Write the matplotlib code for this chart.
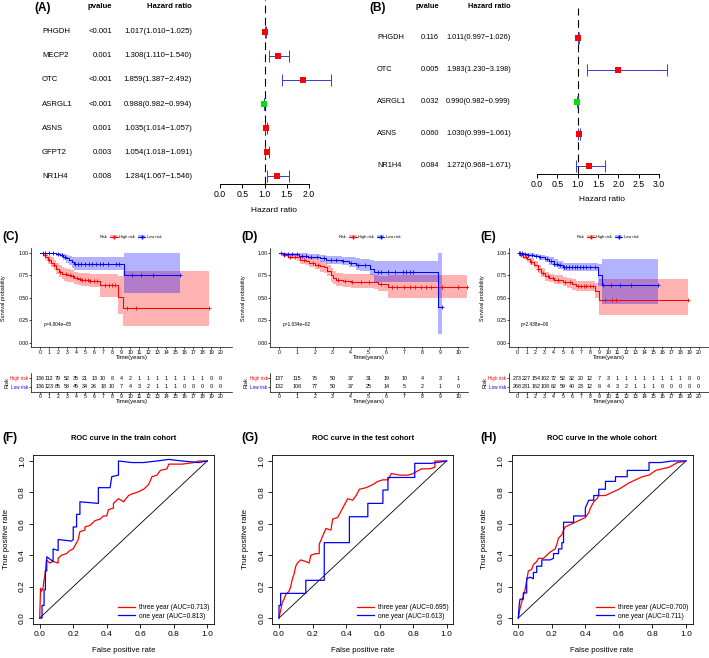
import numpy as np
import matplotlib
matplotlib.use("Agg")
import matplotlib.pyplot as plt
import matplotlib.transforms as mtrans
from matplotlib.lines import Line2D
from matplotlib.patches import Patch

plt.rcParams['font.family'] = ['Liberation Sans', 'DejaVu Sans']

# ---- forest plot data (A: univariate, B: multivariate) ----
a_genes = ["PHGDH", "MECP2", "OTC", "ASRGL1", "ASNS", "GFPT2", "NR1H4"]
a_pval = ["<0.001", "0.001", "<0.001", "<0.001", "0.001", "0.003", "0.008"]
a_hr = [1.017, 1.308, 1.859, 0.988, 1.035, 1.054, 1.284]
a_lo = [1.010, 1.110, 1.387, 0.982, 1.014, 1.018, 1.067]
a_hi = [1.025, 1.540, 2.492, 0.994, 1.057, 1.091, 1.546]

b_genes = ["PHGDH", "OTC", "ASRGL1", "ASNS", "NR1H4"]
b_pval = ["0.116", "0.005", "0.032", "0.060", "0.084"]
b_hr = [1.011, 1.983, 0.990, 1.030, 1.272]
b_lo = [0.997, 1.230, 0.982, 0.999, 0.968]
b_hi = [1.026, 3.198, 0.999, 1.061, 1.671]

# ---- Kaplan-Meier curves (step times, survival, lower/upper CI, end time, censor times) ----
c_hi_t = [0, 0.3, 0.6, 0.9, 1.2, 1.5, 1.8, 2.1, 2.4, 2.7, 3.0, 3.4, 3.8, 4.2, 4.6, 5.5, 6.6, 8.7, 9.2]
c_hi_s = [1.00, 0.98, 0.95, 0.92, 0.89, 0.86, 0.82, 0.79, 0.77, 0.76, 0.75, 0.74, 0.72, 0.71, 0.70, 0.69, 0.64, 0.51, 0.38]
c_hi_lo = [1.00, 0.95, 0.92, 0.88, 0.84, 0.81, 0.77, 0.73, 0.71, 0.69, 0.68, 0.67, 0.65, 0.64, 0.63, 0.62, 0.51, 0.32, 0.18]
c_hi_up = [1.00, 1.00, 0.99, 0.97, 0.95, 0.92, 0.89, 0.86, 0.84, 0.83, 0.82, 0.81, 0.79, 0.78, 0.78, 0.77, 0.76, 0.74, 0.80]
c_hi_end = 18.8
c_hi_cens = [0.5, 1.0, 1.6, 2.2, 2.9, 3.3, 3.7, 4.1, 4.4, 4.7, 5.0, 5.3, 5.6, 6.0, 6.3, 7.2, 7.6, 8.0, 8.3, 9.7, 10.6, 18.8]
c_lo_t = [0, 1.8, 2.2, 2.6, 2.9, 3.2, 3.5, 3.8, 9.3]
c_lo_s = [1.00, 0.99, 0.98, 0.96, 0.94, 0.92, 0.90, 0.88, 0.75]
c_lo_lo = [1.00, 0.97, 0.95, 0.92, 0.89, 0.86, 0.83, 0.81, 0.55]
c_lo_up = [1.00, 1.00, 1.00, 0.99, 0.98, 0.97, 0.96, 0.95, 1.00]
c_lo_end = 15.5
c_lo_cens = [0.3, 0.6, 1.0, 1.4, 2.0, 2.4, 2.8, 3.9, 4.2, 4.6, 5.0, 5.4, 5.8, 6.2, 6.6, 7.0, 7.5, 8.4, 8.8, 10.2, 11.2, 12.5, 15.5]
c_risk_hi = [136, 112, 79, 52, 35, 21, 13, 10, 8, 4, 2, 1, 1, 1, 1, 1, 1, 1, 1, 0, 0]
c_risk_lo = [136, 123, 85, 58, 45, 34, 26, 18, 10, 7, 4, 3, 2, 1, 1, 1, 0, 0, 0, 0, 0]

d_hi_t = [0, 0.2, 0.5, 1.0, 1.2, 1.5, 1.7, 2.0, 2.3, 2.5, 2.7, 2.9, 3.0, 3.2, 3.6, 4.0, 5.3, 5.5, 6.1]
d_hi_s = [1.00, 0.98, 0.96, 0.95, 0.92, 0.91, 0.89, 0.87, 0.85, 0.84, 0.80, 0.75, 0.72, 0.70, 0.69, 0.68, 0.67, 0.655, 0.62]
d_hi_lo = [1.00, 0.96, 0.93, 0.91, 0.88, 0.86, 0.84, 0.82, 0.79, 0.78, 0.74, 0.68, 0.65, 0.63, 0.62, 0.61, 0.60, 0.58, 0.50]
d_hi_up = [1.00, 1.00, 0.99, 0.98, 0.96, 0.95, 0.94, 0.93, 0.91, 0.90, 0.87, 0.83, 0.80, 0.78, 0.77, 0.76, 0.75, 0.74, 0.75]
d_hi_end = 10.5
d_hi_cens = [0.3, 0.6, 0.9, 1.4, 1.9, 2.2, 3.3, 3.7, 4.1, 4.6, 5.0, 5.7, 6.3, 6.6, 7.0, 7.3, 7.6, 7.9, 8.2, 8.5, 9.1, 10.0, 10.5]
d_lo_t = [0, 0.3, 1.1, 1.6, 2.3, 2.6, 3.5, 3.9, 4.3, 4.5, 5.1, 5.3, 8.9]
d_lo_s = [1.00, 0.99, 0.97, 0.96, 0.94, 0.92, 0.91, 0.89, 0.87, 0.86, 0.82, 0.79, 0.40]
d_lo_lo = [1.00, 0.97, 0.94, 0.93, 0.90, 0.88, 0.86, 0.84, 0.81, 0.80, 0.75, 0.68, 0.10]
d_lo_up = [1.00, 1.00, 1.00, 0.99, 0.98, 0.97, 0.96, 0.95, 0.94, 0.93, 0.92, 0.91, 1.00]
d_lo_end = 9.1
d_lo_cens = [0.1, 0.3, 0.5, 0.7, 1.0, 1.3, 1.5, 1.8, 2.1, 2.5, 2.9, 3.2, 3.6, 4.0, 4.4, 4.8, 5.5, 5.7, 6.1, 6.5, 6.9, 7.1, 7.3, 7.5, 9.1]
d_risk_hi = [137, 115, 75, 50, 37, 31, 19, 10, 4, 3, 1]
d_risk_lo = [132, 108, 77, 50, 37, 25, 14, 5, 2, 1, 0]

e_hi_t = [0, 0.3, 0.6, 1.0, 1.4, 1.8, 2.2, 2.6, 3.0, 3.5, 4.0, 5.0, 5.5, 6.0, 6.5, 8.5, 9.0]
e_hi_s = [1.00, 0.98, 0.96, 0.93, 0.90, 0.87, 0.82, 0.78, 0.74, 0.72, 0.70, 0.68, 0.67, 0.65, 0.63, 0.58, 0.47]
e_hi_lo = [1.00, 0.96, 0.93, 0.90, 0.86, 0.83, 0.78, 0.73, 0.69, 0.67, 0.65, 0.63, 0.61, 0.59, 0.57, 0.50, 0.31]
e_hi_up = [1.00, 1.00, 0.98, 0.96, 0.94, 0.91, 0.87, 0.83, 0.79, 0.77, 0.75, 0.73, 0.72, 0.71, 0.69, 0.66, 0.71]
e_hi_end = 18.8
e_hi_cens = [0.4, 0.9, 1.5, 2.3, 2.8, 3.4, 3.9, 4.5, 5.2, 5.8, 6.7, 7.0, 7.3, 7.6, 8.0, 8.3, 9.7, 10.4, 10.9, 18.8]
e_lo_t = [0, 0.6, 1.2, 1.8, 2.4, 3.0, 3.5, 4.0, 4.5, 5.0, 8.9, 9.3]
e_lo_s = [1.00, 0.99, 0.98, 0.97, 0.95, 0.93, 0.91, 0.88, 0.86, 0.84, 0.75, 0.64]
e_lo_lo = [1.00, 0.98, 0.96, 0.95, 0.92, 0.90, 0.87, 0.84, 0.82, 0.80, 0.63, 0.43]
e_lo_up = [1.00, 1.00, 1.00, 0.99, 0.98, 0.97, 0.95, 0.93, 0.91, 0.89, 0.88, 0.93]
e_lo_end = 15.5
e_lo_cens = [0.1, 0.3, 0.5, 0.8, 1.2, 1.6, 2.0, 2.5, 3.3, 3.7, 4.0, 4.3, 4.7, 5.1, 5.4, 5.7, 6.0, 6.3, 6.6, 6.9, 7.2, 7.6, 8.0, 8.6, 9.4, 10.3, 11.3, 12.5, 15.5]
e_risk_hi = [273, 227, 154, 102, 72, 52, 32, 20, 12, 7, 3, 1, 1, 1, 1, 1, 1, 1, 1, 0, 0]
e_risk_lo = [268, 231, 162, 108, 82, 59, 40, 23, 12, 8, 4, 3, 2, 1, 1, 1, 0, 0, 0, 0, 0]

# ---- ROC curves ----
f3_x = [0, 0.005, 0.01, 0.02, 0.025, 0.03, 0.035, 0.04, 0.06, 0.08, 0.11, 0.11, 0.13, 0.16, 0.18, 0.20, 0.21, 0.23, 0.24, 0.27, 0.27, 0.30, 0.33, 0.36, 0.38, 0.40, 0.41, 0.44, 0.44, 0.47, 0.50, 0.53, 0.55, 0.58, 0.62, 0.65, 0.67, 0.70, 0.72, 0.76, 0.77, 0.85, 0.92, 0.95, 1.0]
f3_y = [0, 0.19, 0.17, 0.19, 0.24, 0.26, 0.31, 0.37, 0.35, 0.36, 0.35, 0.38, 0.40, 0.41, 0.43, 0.44, 0.46, 0.50, 0.55, 0.56, 0.58, 0.59, 0.62, 0.63, 0.65, 0.65, 0.69, 0.70, 0.73, 0.76, 0.74, 0.78, 0.79, 0.80, 0.82, 0.85, 0.90, 0.91, 0.94, 0.95, 0.98, 0.98, 0.99, 1.0, 1.0]
f1_x = [0, 0.014, 0.014, 0.026, 0.026, 0.034, 0.034, 0.042, 0.042, 0.08, 0.08, 0.11, 0.11, 0.19, 0.20, 0.20, 0.22, 0.22, 0.24, 0.24, 0.35, 0.35, 0.42, 0.43, 0.47, 0.47, 0.55, 0.62, 0.70, 0.77, 0.85, 0.95, 1.0]
f1_y = [0, 0, 0.08, 0.08, 0.18, 0.18, 0.30, 0.30, 0.39, 0.36, 0.44, 0.43, 0.50, 0.49, 0.50, 0.58, 0.58, 0.66, 0.66, 0.74, 0.73, 0.83, 0.83, 0.90, 0.91, 1.0, 0.99, 0.99, 1.0, 1.01, 1.0, 0.99, 1.0]
g3_x = [0, 0.01, 0.02, 0.03, 0.04, 0.06, 0.07, 0.08, 0.09, 0.10, 0.11, 0.13, 0.16, 0.18, 0.19, 0.22, 0.24, 0.24, 0.26, 0.28, 0.31, 0.32, 0.35, 0.37, 0.39, 0.41, 0.44, 0.46, 0.48, 0.52, 0.56, 0.59, 0.62, 0.65, 0.67, 0.72, 0.77, 0.80, 0.85, 0.90, 0.93, 0.93, 1.0]
g3_y = [0, 0.05, 0.10, 0.12, 0.15, 0.17, 0.20, 0.25, 0.28, 0.33, 0.35, 0.37, 0.36, 0.35, 0.40, 0.41, 0.41, 0.47, 0.52, 0.57, 0.56, 0.63, 0.64, 0.68, 0.72, 0.76, 0.75, 0.78, 0.82, 0.83, 0.85, 0.87, 0.88, 0.88, 0.92, 0.91, 0.91, 0.92, 0.95, 0.95, 0.96, 1.0, 1.0]
g1_x = [0, 0, 0.01, 0.01, 0.16, 0.16, 0.27, 0.27, 0.42, 0.42, 0.53, 0.53, 0.62, 0.62, 0.65, 0.65, 0.81, 0.81, 0.91, 1.0]
g1_y = [0, 0.08, 0.08, 0.157, 0.157, 0.24, 0.24, 0.48, 0.48, 0.645, 0.645, 0.73, 0.73, 0.815, 0.815, 0.895, 0.895, 0.985, 0.985, 1.0]
h3_x = [0, 0.01, 0.02, 0.03, 0.04, 0.05, 0.06, 0.08, 0.09, 0.11, 0.12, 0.15, 0.17, 0.19, 0.22, 0.23, 0.24, 0.26, 0.27, 0.28, 0.32, 0.36, 0.40, 0.42, 0.43, 0.45, 0.47, 0.48, 0.52, 0.56, 0.60, 0.63, 0.66, 0.70, 0.74, 0.78, 0.82, 0.86, 0.90, 0.95, 1.0]
h3_y = [0, 0.06, 0.10, 0.14, 0.18, 0.24, 0.30, 0.31, 0.34, 0.36, 0.38, 0.38, 0.40, 0.42, 0.44, 0.47, 0.51, 0.53, 0.56, 0.58, 0.60, 0.62, 0.64, 0.67, 0.70, 0.74, 0.76, 0.78, 0.78, 0.80, 0.82, 0.84, 0.86, 0.88, 0.90, 0.91, 0.94, 0.95, 0.96, 0.99, 1.0]
h1_x = [0, 0.005, 0.01, 0.03, 0.03, 0.05, 0.05, 0.07, 0.09, 0.09, 0.11, 0.11, 0.14, 0.14, 0.19, 0.21, 0.21, 0.24, 0.24, 0.26, 0.26, 0.27, 0.27, 0.33, 0.33, 0.40, 0.40, 0.42, 0.45, 0.45, 0.48, 0.48, 0.52, 0.52, 0.58, 0.58, 0.65, 0.65, 0.78, 0.78, 0.85, 0.92, 1.0]
h1_y = [0, 0.08, 0.12, 0.12, 0.16, 0.16, 0.25, 0.26, 0.25, 0.29, 0.29, 0.33, 0.33, 0.37, 0.37, 0.38, 0.41, 0.41, 0.44, 0.44, 0.48, 0.48, 0.61, 0.61, 0.65, 0.65, 0.70, 0.75, 0.75, 0.78, 0.78, 0.82, 0.82, 0.87, 0.87, 0.90, 0.90, 0.94, 0.94, 0.99, 0.99, 1.0, 1.0]

W, H = 709, 658
fig = plt.figure(figsize=(W / 100, H / 100), dpi=100)


def box(l, t, w, h):
    return [l / W, 1 - (t + h) / H, w / W, h / H]


def ftext(x, y, s, **kw):
    fig.text(x / W, 1 - y / H, s, **kw)


def forest(l, t, w, h, xlim, ylim, xmax, genes, pv, hr, lo, hi, cols, fs, head_y, lab_y, letter):
    ax = fig.add_axes(box(l, t, w, h))
    ys = np.arange(len(genes), 0, -1)
    hr, lo, hi = np.asarray(hr), np.asarray(lo), np.asarray(hi)
    ax.axvline(1, color='black', lw=0.8, dashes=(7, 4))
    ax.errorbar(hr, ys, xerr=[hr - lo, hi - hr], fmt='none', ecolor='#3b3bd0',
                elinewidth=0.7, capsize=4.3, capthick=0.7)
    ax.scatter(hr, ys, marker='s', s=19, c=np.where(hr > 1, '#ff0000', '#00e000'), zorder=3, lw=0)
    trans = mtrans.blended_transform_factory(fig.transFigure, ax.transData)
    for y, g, p, a, b, c in zip(ys, genes, pv, hr, lo, hi):
        ax.text(cols[0] / W, y, g, transform=trans, ha='left', va='center', fontsize=fs)
        ax.text(cols[1] / W, y, p, transform=trans, ha='right', va='center', fontsize=fs)
        ax.text(cols[2] / W, y, f"{a:.3f}({b:.3f}\u2212{c:.3f})", transform=trans,
                ha='right', va='center', fontsize=fs)
    ftext(cols[1], head_y, "pvalue", ha='right', va='center', fontsize=fs, weight='bold')
    ftext(cols[2], head_y, "Hazard ratio", ha='right', va='center', fontsize=fs, weight='bold')
    ftext(cols[0] - 8, head_y + 1, letter, ha='left', va='center', fontsize=8.5, weight='bold')
    ax.set_xlim(xlim)
    ax.set_ylim(ylim)
    for s in ('left', 'top', 'right'):
        ax.spines[s].set_visible(False)
    ax.spines['bottom'].set_bounds(0, xmax)
    ax.spines['bottom'].set_linewidth(0.7)
    ticks = np.arange(0, xmax + 0.01, 0.5)
    ax.set_xticks(ticks)
    ax.set_xticklabels([f"{v:.1f}" for v in ticks])
    ax.set_yticks([])
    ax.tick_params(axis='x', length=3, width=0.7, labelsize=6.3, pad=1.5)
    ftext(l + w / 2, lab_y, "Hazard ratio", ha='center', va='center', fontsize=6)


forest(214, 0, 120, 184, (-0.135, 2.562), (0.667, 8.333), 2.0,
       a_genes, a_pval, a_hr, a_lo, a_hi, (42, 112, 192), 5.6, 7, 211, "(A)")
forest(530, 8, 144, 166, (-0.172, 3.369), (0.75, 5.9375), 3.0,
       b_genes, b_pval, b_hr, b_lo, b_hi, (377, 439, 511), 5.3, 7, 200, "(B)")


def style(ax):
    ax.spines['top'].set_visible(False)
    ax.spines['right'].set_visible(False)
    for s in ('left', 'bottom'):
        ax.spines[s].set_linewidth(0.5)
    ax.tick_params(length=1.2, width=0.5, labelsize=3.7, pad=0.6)


def km(left, width, xlim, nyears, high, low, pval, r_hi, r_lo, letter, leg_cx):
    ax = fig.add_axes(box(left, 248, width, 99))
    groups = [(high, 'red'), (low, 'blue')]
    for g, col in groups:
        t, s, lo, up, end, cens = g
        tt = np.append(t, end)
        ax.fill_between(tt, np.append(lo, lo[-1]), np.append(up, up[-1]), step='post',
                        color=col, alpha=0.3, lw=0)
    for g, col in groups:
        t, s, lo, up, end, cens = g
        ax.step(np.append(t, end), np.append(s, s[-1]), where='post', color=col, lw=0.75)
        idx = np.searchsorted(t, cens, side='right') - 1
        ax.plot(cens, np.asarray(s)[idx], ls='none', marker='+', color=col, ms=2.6, mew=0.6)
    ax.set_xlim(xlim)
    ax.set_ylim(-0.05, 1.055)
    ticks = np.arange(0, nyears + 1)
    ax.set_xticks(ticks)
    ax.set_yticks([0, 0.25, 0.5, 0.75, 1.0])
    ax.set_yticklabels(["0.00", "0.25", "0.50", "0.75", "1.00"])
    style(ax)
    tmax = max(high[4], low[4])
    ax.text(tmax / 50, 0.2, pval, ha='left', va='center', fontsize=3.4)
    cx = left + width / 2
    ftext(cx, 357.5, "Time(years)", ha='center', va='center', fontsize=4.3)
    ftext(left - 27, 298, "Survival probability", rotation=90, ha='center', va='center', fontsize=3.9)
    ftext(left - 29, 237, letter, ha='left', va='center', fontsize=8.5, weight='bold')

    handles = [(Patch(fc='red', alpha=0.3, lw=0), Line2D([], [], color='red', marker='+', ms=2.6, lw=0.7)),
               (Patch(fc='blue', alpha=0.3, lw=0), Line2D([], [], color='blue', marker='+', ms=2.6, lw=0.7))]
    ax.legend(handles, ["High risk", "Low risk"], loc='center', ncol=2, frameon=False,
              bbox_to_anchor=(leg_cx / W, 1 - 237 / H), bbox_transform=fig.transFigure,
              fontsize=2.9, handlelength=1.8, handletextpad=0.4, columnspacing=0.8)
    ftext(leg_cx - 29, 237, "Risk", ha='right', va='center', fontsize=2.9)

    rt = fig.add_axes(box(left, 373, width, 18.7))
    for x, a, b in zip(ticks, r_hi, r_lo):
        rt.text(x, 2, str(a), ha='center', va='center', fontsize=3.9)
        rt.text(x, 1, str(b), ha='center', va='center', fontsize=3.9)
    rt.set_xlim(xlim)
    rt.set_ylim(0.405, 2.63)
    rt.set_xticks(ticks)
    rt.set_yticks([2, 1])
    rt.set_yticklabels(["High risk", "Low risk"])
    for lab, col in zip(rt.get_yticklabels(), ['red', 'blue']):
        lab.set_color(col)
    style(rt)
    rt.tick_params(axis='y', labelsize=3.3)
    ftext(cx, 402, "Time(years)", ha='center', va='center', fontsize=4.3)
    ftext(left - 24, 383, "Risk", rotation=90, ha='center', va='center', fontsize=4)


km(31, 201, (-1.0, 21.3), 20,
   (c_hi_t, c_hi_s, c_hi_lo, c_hi_up, c_hi_end, c_hi_cens),
   (c_lo_t, c_lo_s, c_lo_lo, c_lo_up, c_lo_end, c_lo_cens),
   "p=4.804e\u221205", c_risk_hi, c_risk_lo, "(C)", 136)
km(270, 198, (-0.5, 10.55), 10,
   (d_hi_t, d_hi_s, d_hi_lo, d_hi_up, d_hi_end, d_hi_cens),
   (d_lo_t, d_lo_s, d_lo_lo, d_lo_up, d_lo_end, d_lo_cens),
   "p=1.034e\u221202", d_risk_hi, d_risk_lo, "(D)", 375)
km(509, 200, (-0.95, 21.15), 20,
   (e_hi_t, e_hi_s, e_hi_lo, e_hi_up, e_hi_end, e_hi_cens),
   (e_lo_t, e_lo_s, e_lo_lo, e_lo_up, e_lo_end, e_lo_cens),
   "p=2.438e\u221206", e_risk_hi, e_risk_lo, "(E)", 613)


def roc(l, letter, title, x3, y3, x1, y1, auc3, auc1):
    ax = fig.add_axes(box(l, 454.7, 181, 169.6))
    ax.plot([0, 1], [0, 1], color='black', lw=0.6)
    ax.plot(x3, y3, color='red', lw=0.9, label=f"three year (AUC={auc3})")
    ax.plot(x1, y1, color='blue', lw=0.9, label=f"one year (AUC={auc1})")
    ax.set_xlim(-0.04, 1.04)
    ax.set_ylim(-0.04, 1.04)
    ticks = np.arange(0, 1.01, 0.2)
    ax.set_xticks(ticks)
    ax.set_yticks(ticks)
    ax.set_xticklabels([f"{v:.1f}" for v in ticks])
    ax.set_yticklabels([f"{v:.1f}" for v in ticks], rotation=90, va='center')
    for s in ax.spines.values():
        s.set_linewidth(0.6)
    ax.tick_params(length=3, width=0.6, labelsize=6, pad=2)
    ax.legend(loc='lower right', frameon=False, fontsize=4.8, handlelength=2.6,
              borderaxespad=0.3, labelspacing=0.25, handletextpad=0.6)
    cx = l + 90.5
    ftext(cx, 438, title, ha='center', va='center', fontsize=5.4, weight='bold')
    ftext(cx, 651, "False positive rate", ha='center', va='center', fontsize=5.6)
    ftext(l - 27, 539, "True positive rate", rotation=90, ha='center', va='center', fontsize=5.6)
    ftext(l - 31, 438, letter, ha='left', va='center', fontsize=8.5, weight='bold')


roc(33, "(F)", "ROC curve in the train cohort", f3_x, f3_y, f1_x, f1_y, "0.713", "0.813")
roc(272.3, "(G)", "ROC curve in the test cohort", g3_x, g3_y, g1_x, g1_y, "0.695", "0.613")
roc(511.6, "(H)", "ROC curve in the whole cohort", h3_x, h3_y, h1_x, h1_y, "0.700", "0.711")

fig.savefig("out.png", dpi=100)
